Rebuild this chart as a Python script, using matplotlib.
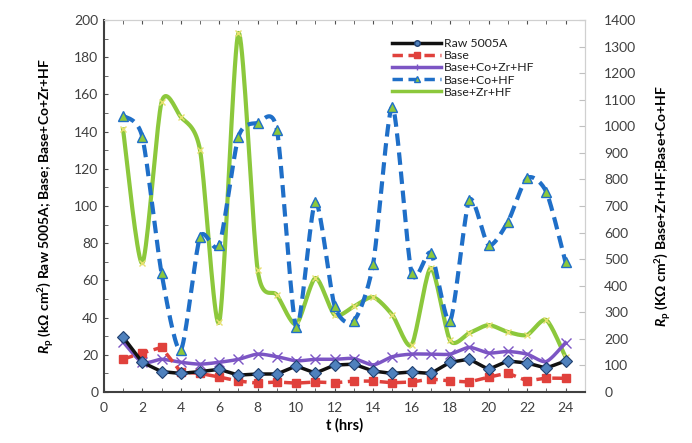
import numpy as np
import matplotlib
matplotlib.use("Agg")
import matplotlib.pyplot as plt
from matplotlib.ticker import MultipleLocator
from matplotlib.lines import Line2D

plt.rcParams["font.family"] = ["Lato", "DejaVu Sans"]
plt.rcParams["mathtext.fontset"] = "custom"
plt.rcParams["mathtext.rm"] = "Lato:bold"
plt.rcParams["mathtext.it"] = "Lato:italic:bold"
plt.rcParams["mathtext.bf"] = "Lato:bold"

# time (hrs)
t = np.arange(1, 25)

# left axis series (kOhm cm2)
raw_5005a = [29.6, 16, 11, 10, 11, 12.2, 9.1, 9.7, 9.7, 14, 10.2, 14.5,
             15, 11.3, 10, 10.8, 10, 16, 17.7, 12.2, 16.7, 15.6, 12.9, 16.7]
base = [17.7, 21, 24, 10.8, 10, 8.1, 5.9, 4.8, 5.4, 4.8, 5.4, 5,
        5.9, 5.9, 5, 5.4, 7, 6, 5.4, 8, 10.2, 6, 7.5, 7.4]
base_co_zr_hf = [27, 16, 17.6, 16, 15, 16, 17.6, 20.4, 19, 16.8, 17.6, 17.6,
                 18, 14.6, 19, 20.4, 20.4, 20.4, 24, 21, 21.8, 20.4, 16.4, 26.5]

# right axis series (kOhm cm2)
base_co_hf = [1040, 960, 448, 158, 583, 553, 960, 1012, 986, 245, 715, 324,
              267, 482, 1073, 448, 523, 267, 722, 553, 640, 805, 753, 489]
base_zr_hf = [988, 485, 1090, 1035, 911, 263, 1351, 458, 365, 255, 429, 290,
              322, 357, 290, 177, 467, 194, 222, 252, 226, 215, 271, 132]


def smooth(x, y, k=8, n=20):
    # smoothed line like the spreadsheet one (bezier through the points)
    x = np.asarray(x, float)
    y = np.asarray(y, float)
    px = np.concatenate([[x[0]], x, [x[-1]]])
    py = np.concatenate([[y[0]], y, [y[-1]]])
    xs, ys = [], []
    s = np.linspace(0, 1, n)[:, None]
    for i in range(len(x) - 1):
        p0 = np.array([px[i], py[i]])
        p1 = np.array([px[i + 1], py[i + 1]])
        p2 = np.array([px[i + 2], py[i + 2]])
        p3 = np.array([px[i + 3], py[i + 3]])
        b1 = p1 + (p2 - p0) / k
        b2 = p2 - (p3 - p1) / k
        pts = (1 - s) ** 3 * p1 + 3 * (1 - s) ** 2 * s * b1 \
            + 3 * (1 - s) * s ** 2 * b2 + s ** 3 * p2
        xs.extend(pts[:, 0])
        ys.extend(pts[:, 1])
    return np.array(xs), np.array(ys)


fig = plt.figure(figsize=(6.92, 4.43), dpi=100)
ax = fig.add_axes([0.150, 0.115, 0.695, 0.840])
ax2 = ax.twinx()

c_black = "#111111"
c_red = "#e0413c"
c_purple = "#7c55c4"
c_blue = "#1f6fc8"
c_green = "#8cc83c"

# right axis lines
gx, gy = smooth(t, base_zr_hf)
ax2.plot(gx, gy, color=c_green, lw=3, zorder=2)
ax2.plot(t, base_zr_hf, ls="none", marker="x", ms=5, mew=1, color="#e8e070", zorder=3)
bx, by = smooth(t, base_co_hf)
ax2.plot(bx, by, color=c_blue, lw=3, dashes=(3, 1.6), zorder=4)
ax2.plot(t, base_co_hf, ls="none", marker="^", ms=7, mfc=c_green, mec=c_blue, mew=1, zorder=5)

# left axis lines (drawn over the right ones)
ax.set_zorder(ax2.get_zorder() + 1)
ax.patch.set_visible(False)
px_, py_ = smooth(t, base_co_zr_hf)
ax.plot(px_, py_, color=c_purple, lw=2.5)
ax.plot(t, base_co_zr_hf, ls="none", marker="x", ms=7, mew=1, color=c_purple)
ax.plot(t, base, color=c_red, lw=2.5, dashes=(3, 1.6), marker="s", ms=6, mfc=c_red, mec=c_red)
ax.plot(t, raw_5005a, color=c_black, lw=2.5, marker="D", ms=6, mfc="#4f81bd", mec="#1f3f6f", mew=0.8)

ax.set_xlim(0, 25)
ax.set_ylim(0, 200)
ax2.set_ylim(0, 1400)

ax.xaxis.set_major_locator(MultipleLocator(2))
ax.xaxis.set_minor_locator(MultipleLocator(1))
ax.yaxis.set_major_locator(MultipleLocator(20))
ax.yaxis.set_minor_locator(MultipleLocator(10))
ax2.yaxis.set_major_locator(MultipleLocator(100))

lab_col = "#404040"
ax.tick_params(axis="both", which="both", colors="#505050", labelcolor=lab_col, labelsize=10)
ax.tick_params(axis="x", which="major", direction="out", length=5, pad=7)
ax.tick_params(axis="x", which="minor", direction="out", length=5)
ax.tick_params(axis="y", which="major", direction="inout", length=7, pad=4)
ax.tick_params(axis="y", which="minor", direction="inout", length=5)
ax.tick_params(top=True, which="both", direction="in", length=3)
ax2.tick_params(axis="y", colors="#c0c0c0", labelcolor=lab_col, labelsize=10,
                direction="in", length=4, pad=14)

for sp in ["left", "bottom"]:
    ax.spines[sp].set_color("#404040")
    ax.spines[sp].set_linewidth(1.5)
for a in (ax, ax2):
    a.spines["top"].set_color("#d0d0d0")
    a.spines["right"].set_color("#d0d0d0")
ax2.spines["left"].set_visible(False)
ax2.spines["bottom"].set_visible(False)

ax.set_xlabel("t (hrs)", fontweight="bold", fontsize=10.5, labelpad=3)
ax.set_ylabel(r"$R_\mathrm{p}$ (kΩ cm$^2$) Raw 5005A; Base; Base+Co+Zr+HF",
              fontweight="bold", fontsize=10, labelpad=12)
ax2.set_ylabel(r"$R_\mathrm{p}$ (KΩ cm$^2$) Base+Zr+HF;Base+Co+HF",
               fontweight="bold", fontsize=10, labelpad=12)

# legend
handles = [
    Line2D([], [], color=c_black, lw=2.5, marker="o", ms=4, mfc="#4f81bd", mec="#1f3f6f"),
    Line2D([], [], color=c_red, lw=2.5, dashes=(3, 1.6), marker="s", ms=5, mfc=c_red, mec=c_red),
    Line2D([], [], color=c_purple, lw=2.5, marker="+", ms=5),
    Line2D([], [], color=c_blue, lw=2.5, dashes=(3, 1.6), marker="^", ms=5, mfc=c_green, mec=c_blue),
    Line2D([], [], color=c_green, lw=2.5),
]
names = ["Raw 5005A", "Base", "Base+Co+Zr+HF", "Base+Co+HF", "Base+Zr+HF"]
leg = ax.legend(handles, names, loc="upper left", bbox_to_anchor=(0.59, 0.965),
                frameon=False, fontsize=8.8, handlelength=4.0, handletextpad=0.2,
                labelspacing=0.1, borderaxespad=0)
for txt in leg.get_texts():
    txt.set_color("#202020")

fig.savefig("out.png", dpi=100)
